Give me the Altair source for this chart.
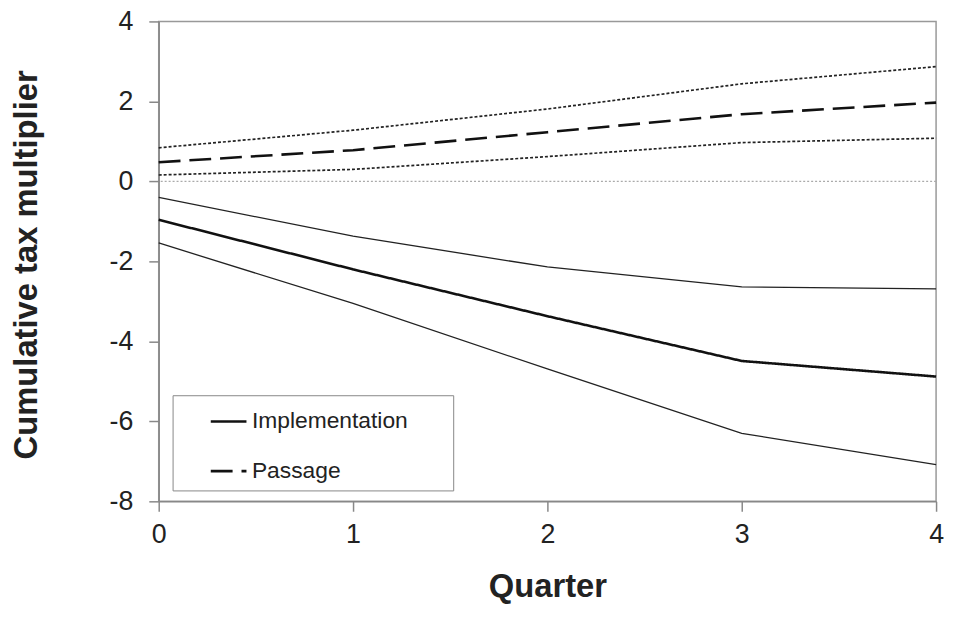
import altair as alt
import pandas as pd

quarters = [0, 1, 2, 3, 4]
impl_main = [-0.96, -2.20, -3.37, -4.49, -4.88]
impl_upper = [-0.40, -1.37, -2.14, -2.64, -2.69]
impl_lower = [-1.54, -3.05, -4.69, -6.30, -7.08]
pass_main = [0.48, 0.78, 1.23, 1.68, 1.97]
pass_upper = [0.84, 1.28, 1.81, 2.44, 2.87]
pass_lower = [0.16, 0.30, 0.62, 0.97, 1.08]
y_ticks = [-8, -6, -4, -2, 0, 2, 4]
series_names = ["Implementation", "Passage"]

main_df = pd.DataFrame({
    "Quarter": quarters * 2,
    "value": impl_main + pass_main,
    "series": [series_names[0]] * 5 + [series_names[1]] * 5,
})
impl_band_df = pd.DataFrame({
    "Quarter": quarters * 2,
    "value": impl_upper + impl_lower,
    "band": ["upper"] * 5 + ["lower"] * 5,
})
pass_band_df = pd.DataFrame({
    "Quarter": quarters * 2,
    "value": pass_upper + pass_lower,
    "band": ["upper"] * 5 + ["lower"] * 5,
})
zero_df = pd.DataFrame({"y": [0]})

x_enc = alt.X(
    "Quarter:Q",
    scale=alt.Scale(domain=[0, 4], nice=False),
    axis=alt.Axis(
        values=quarters, title="Quarter", grid=False,
        labelExpr="'' + datum.value", labelFlush=False,
        titleBaseline="alphabetic", titleY=96, titleX=392,
    ),
)
y_enc = alt.Y(
    "value:Q",
    scale=alt.Scale(domain=[-8, 4], nice=False),
    axis=alt.Axis(
        values=y_ticks, title="Cumulative tax multiplier",
        grid=False, labelExpr="'' + datum.value", labelFlush=False,
        titleAngle=-90, titleAlign="center",
        titleBaseline="alphabetic", titleX=-123, titleY=245,
    ),
)

zero = alt.Chart(zero_df).mark_rule(
    color="#aaaaaa", strokeWidth=1.2, strokeDash=[2, 2]
).encode(y=alt.Y("y:Q", scale=alt.Scale(domain=[-8, 4], nice=False)))

impl_bands = alt.Chart(impl_band_df).mark_line(
    color="#222222", strokeWidth=1.3
).encode(x=x_enc, y=y_enc, detail="band:N")

pass_bands = alt.Chart(pass_band_df).mark_line(
    color="#222222", strokeWidth=1.7, strokeDash=[3, 2]
).encode(x=x_enc, y=y_enc, detail="band:N")

# non-breaking spaces (kept from trimming by a trailing zero-width char) widen the legend box
pad_str = "\u00a0" * 6 + "\u200b"

main = alt.Chart(main_df).mark_line(
    color="#111111", strokeWidth=2.6
).encode(
    x=x_enc,
    y=y_enc,
    strokeDash=alt.StrokeDash(
        "series:N",
        scale=alt.Scale(domain=series_names, range=[[1, 0], [22, 9]]),
        legend=alt.Legend(
            title=None, orient="none", legendX=14, legendY=377,
            symbolType="stroke", symbolSize=1296, symbolStrokeWidth=2.6,
            symbolStrokeColor="#111111", symbolOffset=30,
            labelOffset=4, labelFontSize=23, labelFont="Liberation Sans",
            labelColor="#222222", labelLimit=500,
            labelExpr="datum.label + '" + pad_str + "'",
            padding=7, rowPadding=18,
            strokeColor="#888888", fillColor="white",
        ),
    ),
)

chart = alt.layer(zero, impl_bands, pass_bands, main).properties(
    width=784, height=484,
    autosize=alt.AutoSizeParams(type="none"),
    padding={"left": 152, "top": 11, "right": 9, "bottom": 101},
).configure_view(
    stroke="#999999", strokeWidth=1.5
).configure_axis(
    domainColor="#888888", domainWidth=1.5,
    tickColor="#888888", tickWidth=1.5, tickSize=10,
    labelFont="Liberation Sans", labelFontSize=27, labelColor="#222222",
    titleFont="Liberation Sans", titleFontSize=33, titleFontWeight="bold",
    titleColor="#222222",
).configure_axisX(
    labelPadding=11,
).configure_axisY(
    labelPadding=16,
)

chart.save("out.html", embed_options={"renderer": "svg", "actions": False})
